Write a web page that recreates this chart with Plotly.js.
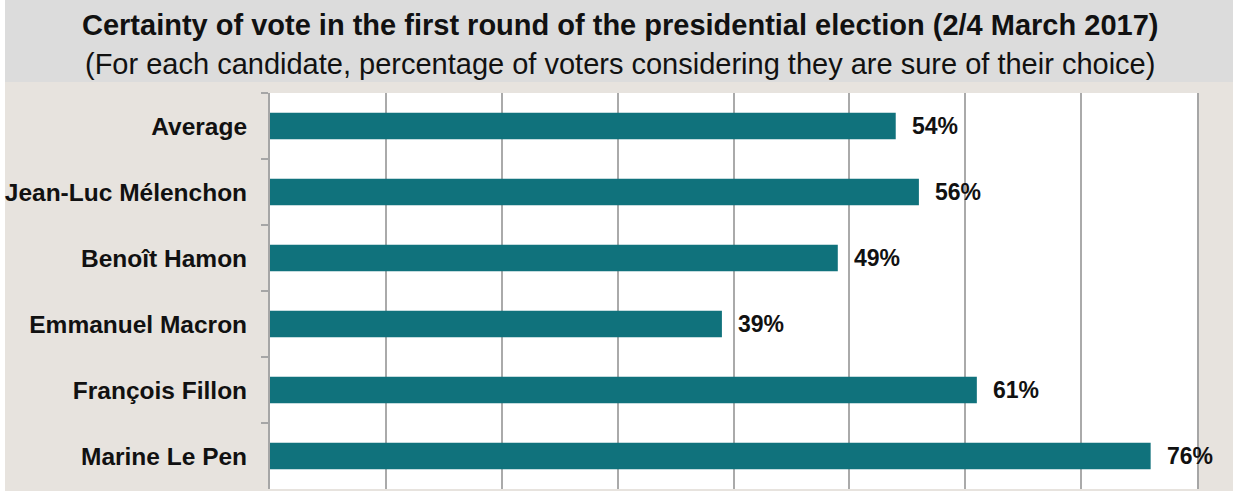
<!DOCTYPE html>
<html>
<head>
<meta charset="utf-8">
<script src="https://cdn.plot.ly/plotly-3.0.1.min.js"></script>
<style>html,body{margin:0;padding:0;background:#fff;}#chart{width:1237px;height:491px;}</style>
</head>
<body>
<div id="chart"></div>
<script>
const categories = ["Average", "Jean-Luc Mélenchon", "Benoît Hamon", "Emmanuel Macron", "François Fillon", "Marine Le Pen"];
const certainty = [54, 56, 49, 39, 61, 76];
const titleText = "Certainty of vote in the first round of the presidential election (2/4 March 2017)";
const subtitleText = "(For each candidate, percentage of voters considering they are sure of their choice)";

const W = 1237, H = 491, ML = 270, MR = 40, MT = 93, MB = 2;
const PW = W - ML - MR, PH = H - MT - MB;
const px2x = p => (p - ML) / PW;
const py2y = p => 1 + (MT - p) / PH;

const FONT = "Liberation Sans, Arial, sans-serif";

const trace = {
  type: "bar",
  orientation: "h",
  y: categories,
  x: certainty,
  marker: {color: "#10727c"},
  hoverinfo: "skip"
};

const annotations = categories.map((c, i) => ({
  x: certainty[i], y: c, xref: "x", yref: "y",
  text: "<b>" + certainty[i] + "%</b>",
  showarrow: false, xanchor: "left", yanchor: "middle", xshift: 14,
  font: {family: FONT, size: 23, color: "#111"}
}));
annotations.push({
  x: 0.5, xref: "paper", y: py2y(25), yref: "paper", xanchor: "center", yanchor: "middle",
  xshift: (619.5 - (ML + PW/2)),
  text: "<b>" + titleText + "</b>", showarrow: false,
  font: {family: FONT, size: 29, color: "#111"}
});
annotations.push({
  x: 0.5, xref: "paper", y: py2y(64), yref: "paper", xanchor: "center", yanchor: "middle",
  xshift: (620 - (ML + PW/2)),
  text: subtitleText, showarrow: false,
  font: {family: FONT, size: 29, color: "#111"}
});

const shapes = [
  {type: "rect", xref: "paper", yref: "paper", x0: px2x(0), x1: px2x(W), y0: py2y(82), y1: py2y(0), fillcolor: "#dcdcdc", line: {width: 0}, layer: "below"},
  {type: "rect", xref: "paper", yref: "paper", x0: px2x(0), x1: px2x(5), y0: py2y(H), y1: py2y(0), fillcolor: "#ffffff", line: {width: 0}, layer: "below"},
  {type: "rect", xref: "paper", yref: "paper", x0: px2x(1233), x1: px2x(W), y0: py2y(H), y1: py2y(0), fillcolor: "#ffffff", line: {width: 0}, layer: "below"}
];

const layout = {
  width: W, height: H,
  margin: {l: ML, r: MR, t: MT, b: MB, pad: 0},
  paper_bgcolor: "#e7e3de",
  plot_bgcolor: "#ffffff",
  showlegend: false,
  bargap: 0.6,
  xaxis: {
    range: [0, 80], dtick: 10, tick0: 0,
    showgrid: true, gridcolor: "#aaaaaa", gridwidth: 2,
    zeroline: false, showticklabels: false, showline: false, ticks: "", fixedrange: true
  },
  yaxis: {
    type: "category", categoryorder: "array", categoryarray: categories,
    autorange: "reversed",
    showgrid: false, zeroline: false,
    showline: true, linecolor: "#a6a6a6", linewidth: 2, mirror: true,
    ticks: "outside", tickson: "boundaries", ticklen: 7, tickcolor: "#a6a6a6", tickwidth: 2,
    ticklabelstandoff: 16,
    tickfont: {family: FONT, size: 24.5, color: "#111", weight: "bold"},
    fixedrange: true
  },
  annotations: annotations,
  shapes: shapes
};

Plotly.newPlot("chart", [trace], layout, {displayModeBar: false, staticPlot: true});
</script>
</body>
</html>
